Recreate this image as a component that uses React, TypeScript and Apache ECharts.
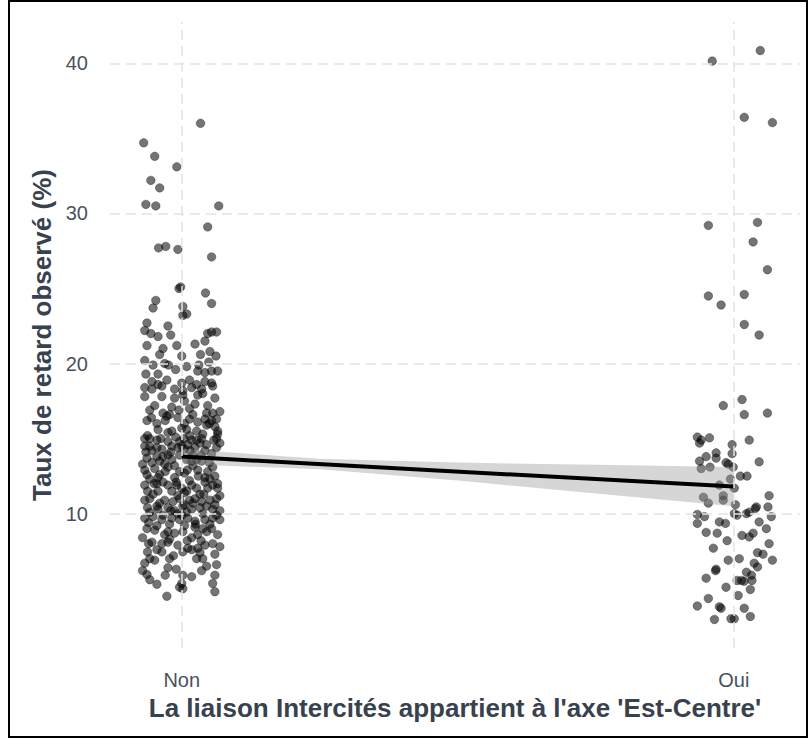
import React, { useEffect, useRef } from 'react';
import * as echarts from 'echarts';

const categories = ['Non', 'Oui'];
const yTicks = [10, 20, 30, 40];
const xTicks = [1, 2];

const nonJitter = [
  0.034, -0.069, -0.049, -0.009, -0.056, -0.040, -0.065, -0.047, 0.067, 0.047,
  -0.042, -0.029, -0.007, 0.054, -0.005, -0.002, 0.043, -0.047, 0.054, -0.052,
  0.002, 0.002, 0.009, -0.063, -0.025, -0.067, -0.056, -0.043, -0.020, 0.047,
  0.054, 0.063, -0.063, -0.034, -0.009, 0, 0.034, 0.051, 0.062, -0.067,
  -0.031, -0.024, -0.011, 0.031, -0.065, -0.043, 0.029, 0.042, 0.054, 0.065,
  -0.054, -0.043, -0.027, 0, 0.014, 0.027, 0.042, 0.054, -0.067, -0.054,
  -0.036, -0.013, 0.002, 0.018, 0.036, 0.056, -0.067, -0.036, -0.013, 0.002,
  0.005, 0.024, 0.029, 0.038, 0.060, -0.058, -0.034, -0.027, -0.022, -0.007,
  0.014, 0.042, 0.045, 0.056, 0.069, 0.054, 0.063, 0.060, 0.065, 0.063,
  -0.043, -0.062, -0.067, -0.058, -0.018, 0, 0.009, 0.027, 0.038, -0.011,
  -0.004, 0.004, 0.011, 0.018, 0.005, 0.024, 0.033, -0.007, 0.014, -0.045,
  -0.038, -0.067, -0.058, -0.054, -0.025, -0.018, 0.027, 0.036, 0.045, 0.042,
  0.065, 0.069, 0.063, -0.025, -0.034, -0.018, -0.045, -0.040, -0.063, -0.071,
  -0.067, -0.054, -0.049, -0.031, -0.025, -0.013, 0.009, 0.018, 0.027, 0.036,
  -0.004, 0.005, 0.047, 0.042, 0.051, 0.060, -0.063, -0.058, -0.067, -0.045,
  -0.034, -0.025, -0.009, 0, 0.009, 0.018, 0.027, 0.033, 0.042, 0.047,
  0.056, 0.065, 0.069, -0.062, -0.052, -0.043, -0.018, -0.007, -0.067, -0.031,
  -0.016, -0.004, 0.014, 0.024, 0.036, 0.051, 0.063, -0.062, -0.043, -0.025,
  -0.013, 0.002, 0.018, 0.033, 0.045, 0.056, 0.069, -0.067, -0.052, -0.036,
  -0.018, -0.004, 0.011, 0.024, 0.042, 0.056, 0.069, -0.063, -0.071, -0.049,
  -0.031, -0.022, -0.013, 0.002, 0.018, 0.029, 0.045, 0.054, 0.065, 0.069,
  -0.054, -0.036, -0.025, -0.007, 0.011, 0.029, 0.042, 0.056, -0.062, -0.058,
  -0.049, -0.067, -0.071, -0.063, -0.058, -0.045, -0.036, -0.022, -0.025, 0.002,
  0.018, 0.027, 0.038, 0.033, 0.002, 0.018, 0.036, 0, 0.002, -0.004,
  0.063, 0.060, 0.056, 0.060, -0.027, -0.040, -0.013, 0.014, 0.029, 0.056,
  -0.058, -0.034, -0.007, 0.009, 0.038, 0.063, -0.045, -0.022, 0.005, 0.024,
  0.051, -0.036, 0.054, -0.004, 0.020, -0.063, -0.045, 0.005, 0.029, -0.049,
  -0.018, 0.014, 0.047, -0.052, 0.009, 0.049, -0.040, 0.024, 0.042, -0.058,
  0.005, -0.025, 0.020, -0.043, 0.038,
  -0.060, -0.040, -0.020, 0.000, 0.020, 0.040, 0.060, -0.050, -0.030, -0.010,
  0.010, 0.030, 0.050, 0.065, -0.065, -0.045, -0.020, 0.000, 0.015, 0.035,
  0.058, -0.055, -0.030, -0.005, 0.020, 0.045, -0.060, -0.045, -0.015, 0.010,
  0.035, 0.060, -0.030, 0.045, -0.010, 0.025, -0.025, 0.005, -0.045, 0.050,
];

const nonRate = [
  36.0, 34.7, 33.8, 33.1, 32.2, 31.7, 30.6, 30.5, 30.5, 29.1,
  27.7, 27.8, 27.6, 27.1, 25.0, 25.1, 24.7, 24.2, 24.0, 23.7,
  23.8, 23.2, 23.3, 22.7, 22.5, 22.2, 22.0, 21.8, 21.9, 22.0,
  22.1, 22.1, 21.2, 21.0, 21.2, 20.5, 20.6, 20.8, 20.5, 20.2,
  20.0, 19.9, 19.6, 19.9, 19.3, 19.3, 19.5, 19.4, 19.5, 19.5,
  18.8, 18.6, 18.9, 18.7, 18.9, 18.6, 18.8, 18.7, 18.4, 18.3,
  18.5, 18.3, 18.2, 18.4, 18.3, 18.5, 17.8, 17.8, 17.7, 17.9,
  17.5, 17.3, 17.9, 18.0, 17.7, 16.9, 16.7, 16.5, 16.6, 16.4,
  16.3, 16.3, 16.7, 16.7, 16.8, 16.2, 16.3, 15.8, 15.5, 15.0,
  15.6, 15.2, 15.0, 15.0, 15.5, 15.7, 15.6, 15.5, 15.3, 15.1,
  14.8, 15.0, 14.6, 14.9, 14.3, 14.4, 14.7, 14.4, 15.2, 14.9,
  15.0, 14.5, 14.5, 14.2, 14.8, 14.5, 14.9, 15.0, 14.6, 14.2,
  15.3, 14.7, 14.4, 13.9, 13.8, 13.6, 13.8, 13.5, 13.7, 13.3,
  12.9, 13.4, 13.0, 13.3, 13.1, 13.2, 13.6, 13.5, 13.6, 13.5,
  12.8, 12.7, 12.8, 12.4, 12.3, 12.5, 12.6, 12.3, 11.9, 12.0,
  12.1, 11.9, 11.9, 11.7, 11.5, 11.9, 11.7, 11.3, 12.1, 11.7,
  11.9, 11.7, 11.2, 11.5, 11.3, 11.5, 11.5, 11.2, 10.9, 10.9,
  10.8, 11.0, 10.9, 11.0, 10.8, 10.9, 11.0, 10.4, 10.3, 10.4,
  10.2, 10.5, 10.3, 10.4, 10.5, 10.3, 10.2, 9.7, 9.8, 9.6,
  9.7, 9.6, 9.7, 9.5, 9.6, 9.7, 9.6, 9.0, 8.4, 8.9,
  8.6, 8.3, 8.7, 8.8, 8.4, 8.6, 8.8, 9.0, 8.6, 7.8,
  8.1, 8.0, 8.1, 7.9, 7.7, 7.7, 7.9, 8.0, 7.45, 7.0,
  6.9, 6.7, 6.2, 5.95, 5.6, 5.3, 7.45, 7.0, 6.4, 7.45,
  7.6, 7.0, 7.0, 7.4, 5.9, 5.8, 6.2, 5.35, 5.0, 5.1,
  6.6, 5.9, 5.35, 4.8, 4.5, 12.6, 12.4, 12.2, 12.9, 13.1,
  10.1, 9.9, 10.0, 10.1, 10.0, 9.9, 9.2, 9.3, 9.2, 9.1,
  9.3, 14.3, 14.0, 13.9, 13.2, 16.2, 16.0, 16.0, 16.1, 17.2,
  17.1, 17.0, 17.2, 19.9, 19.8, 20.1, 20.6, 21.3, 21.5, 11.0,
  10.6, 15.4, 13.9, 12.4, 9.0,
  9.4, 10.7, 10.2, 9.9, 10.7, 11.3, 10.6, 12.0, 12.8, 12.1,
  12.9, 12.5, 13.4, 12.0, 14.1, 14.4, 14.1, 14.5, 14.2, 13.9,
  14.9, 16.4, 16.2, 16.9, 16.6, 15.9, 8.0, 7.6, 7.2, 8.2,
  8.2, 7.3, 5.9, 6.5, 6.3, 9.3, 8.8, 11.4, 10.5, 16.0,
];

const ouiJitter = [
  0.048, -0.039, 0.019, 0.070, -0.046, 0.043, 0.035, 0.061, -0.046, -0.023,
  0.019, 0.019, 0.046, 0.015, -0.019, 0.019, 0.061, -0.066, -0.059, -0.044,
  -0.062, 0.028, -0.003, -0.003, -0.032, -0.050, -0.062, -0.032, -0.014, -0.010,
  0.046, -0.059, -0.043, -0.001, 0.012, 0.024, -0.006, -0.026, 0.001, -0.055,
  -0.019, 0.064, -0.046, -0.019, 0.003, 0.062, 0.041, 0.001, 0.006, 0.023,
  0.028, 0.039, -0.066, -0.053, -0.066, -0.026, -0.015, 0.046, 0.068, 0.059,
  -0.050, -0.030, -0.012, 0.015, 0.028, 0.035, -0.037, 0.064, 0.043, 0.053,
  0.070, -0.010, 0.010, -0.033, -0.032, 0.037, 0.043, 0.023, 0.019, 0.032,
  0.033, 0.006, 0.014, -0.050, 0.030, -0.014, 0.008, -0.046, -0.066, -0.026,
  -0.023, 0.019, 0.030, -0.035, -0.005, 0.001,
];

const ouiRate = [
  40.85, 40.15, 36.4, 36.05, 29.2, 29.4, 28.1, 26.25, 24.5, 23.9,
  24.6, 22.6, 21.9, 17.6, 17.2, 16.6, 16.7, 15.1, 14.9, 15.05,
  14.7, 14.9, 14.6, 14.0, 14.05, 13.8, 13.5, 13.7, 13.4, 13.3,
  13.45, 13.0, 13.1, 13.1, 12.5, 12.5, 12.3, 11.9, 11.7, 11.1,
  11.2, 11.2, 10.7, 10.9, 10.6, 10.45, 10.45, 10.0, 9.9, 10.0,
  10.1, 10.35, 9.95, 9.8, 9.35, 9.45, 9.35, 9.45, 9.8, 9.0,
  8.75, 8.7, 8.2, 8.55, 8.45, 8.7, 7.7, 8.0, 7.4, 7.3,
  6.9, 6.9, 7.0, 6.2, 6.3, 6.7, 6.45, 6.1, 5.5, 5.9,
  5.55, 5.55, 5.55, 5.7, 4.95, 5.1, 4.55, 4.35, 3.85, 3.8,
  3.7, 3.7, 3.15, 2.95, 3.0, 3.0,
];

const fitX = [1, 2];
const fitY = [13.8, 11.8];
const bandX = [1, 1.25, 1.5, 1.75, 2];
const bandLow = [13.3, 12.95, 12.2, 11.35, 10.5];
const bandHigh = [14.3, 13.65, 13.4, 13.25, 13.1];

const FONT = '"Liberation Sans", Arial, sans-serif';

export default function App() {
  const ref = useRef<HTMLDivElement>(null);

  useEffect(() => {
    if (!ref.current) return;
    const chart = echarts.init(ref.current, null, { renderer: 'svg' });

    const pointStyle = {
      color: 'rgba(0,0,0,0.68)',
      borderColor: 'rgba(0,0,0,0.4)',
      borderWidth: 1,
    };
    const gridLine = { color: '#e4e4e4', width: 1.5, type: [10, 6] as any };

    const option: any = {
      animation: false,
      backgroundColor: '#ffffff',
      textStyle: { fontFamily: FONT },
      grid: { left: 110, right: 8, top: 22, bottom: 90 },
      xAxis: {
        type: 'value',
        min: 0.87,
        max: 2.12,
        axisLine: { show: false },
        axisTick: { show: false },
        splitLine: { show: false },
        axisLabel: {
          customValues: xTicks,
          formatter: (v: number) => categories[Math.round(v) - 1] ?? '',
          fontSize: 20,
          color: '#4a525c',
          margin: 22,
          fontFamily: FONT,
        },
        name: "La liaison Intercités appartient à l'axe 'Est-Centre'",
        nameLocation: 'middle',
        nameGap: 44,
        nameTextStyle: { fontSize: 26, fontWeight: 'bold', color: '#38424e', fontFamily: FONT },
      },
      yAxis: {
        type: 'value',
        min: 1.05,
        max: 42.75,
        axisLine: { show: false },
        axisTick: { show: false },
        splitLine: { show: false },
        axisLabel: {
          customValues: yTicks,
          fontSize: 20,
          color: '#4a525c',
          margin: 22,
          fontFamily: FONT,
        },
        name: 'Taux de retard observé (%)',
        nameLocation: 'middle',
        nameGap: 55,
        nameTextStyle: { fontSize: 26, fontWeight: 'bold', color: '#38424e', fontFamily: FONT },
      },
      series: [
        {
          type: 'line',
          data: [],
          z: 1,
          silent: true,
          markLine: {
            silent: true,
            symbol: ['none', 'none'],
            label: { show: false },
            lineStyle: gridLine,
            emphasis: { disabled: true },
            data: [
              ...yTicks.map((v) => ({ yAxis: v })),
              ...xTicks.map((v) => ({ xAxis: v })),
            ],
          },
        },
        {
          type: 'scatter',
          name: 'Non',
          z: 2,
          symbolSize: 8.5,
          itemStyle: pointStyle,
          data: nonJitter.map((j, i) => [1 + j, nonRate[i]]),
        },
        {
          type: 'scatter',
          name: 'Oui',
          z: 2,
          symbolSize: 8.5,
          itemStyle: pointStyle,
          data: ouiJitter.map((j, i) => [2 + j, ouiRate[i]]),
        },
        {
          type: 'custom',
          z: 3,
          silent: true,
          data: [[bandX[0], bandLow[0]]],
          renderItem: (_params: any, api: any) => {
            const pts: number[][] = [];
            bandX.forEach((x, i) => pts.push(api.coord([x, bandHigh[i]])));
            for (let i = bandX.length - 1; i >= 0; i--) pts.push(api.coord([bandX[i], bandLow[i]]));
            return {
              type: 'polygon',
              shape: { points: pts },
              style: { fill: 'rgba(153,153,153,0.4)' },
            };
          },
        },
        {
          type: 'line',
          z: 4,
          silent: true,
          symbol: 'none',
          lineStyle: { color: '#000000', width: 4 },
          data: fitX.map((x, i) => [x, fitY[i]]),
        },
      ],
    };

    chart.setOption(option);
    return () => chart.dispose();
  }, []);

  return (
    <div style={{ position: 'fixed', left: 0, top: 0, width: 808, height: 738, background: '#fff' }}>
      <div ref={ref} style={{ position: 'absolute', left: 0, top: 0, width: 808, height: 738 }} />
      <div
        style={{
          position: 'absolute',
          left: 8,
          top: 0,
          width: 800,
          height: 738,
          border: '2px solid #000',
          boxSizing: 'border-box',
          pointerEvents: 'none',
        }}
      />
    </div>
  );
}
